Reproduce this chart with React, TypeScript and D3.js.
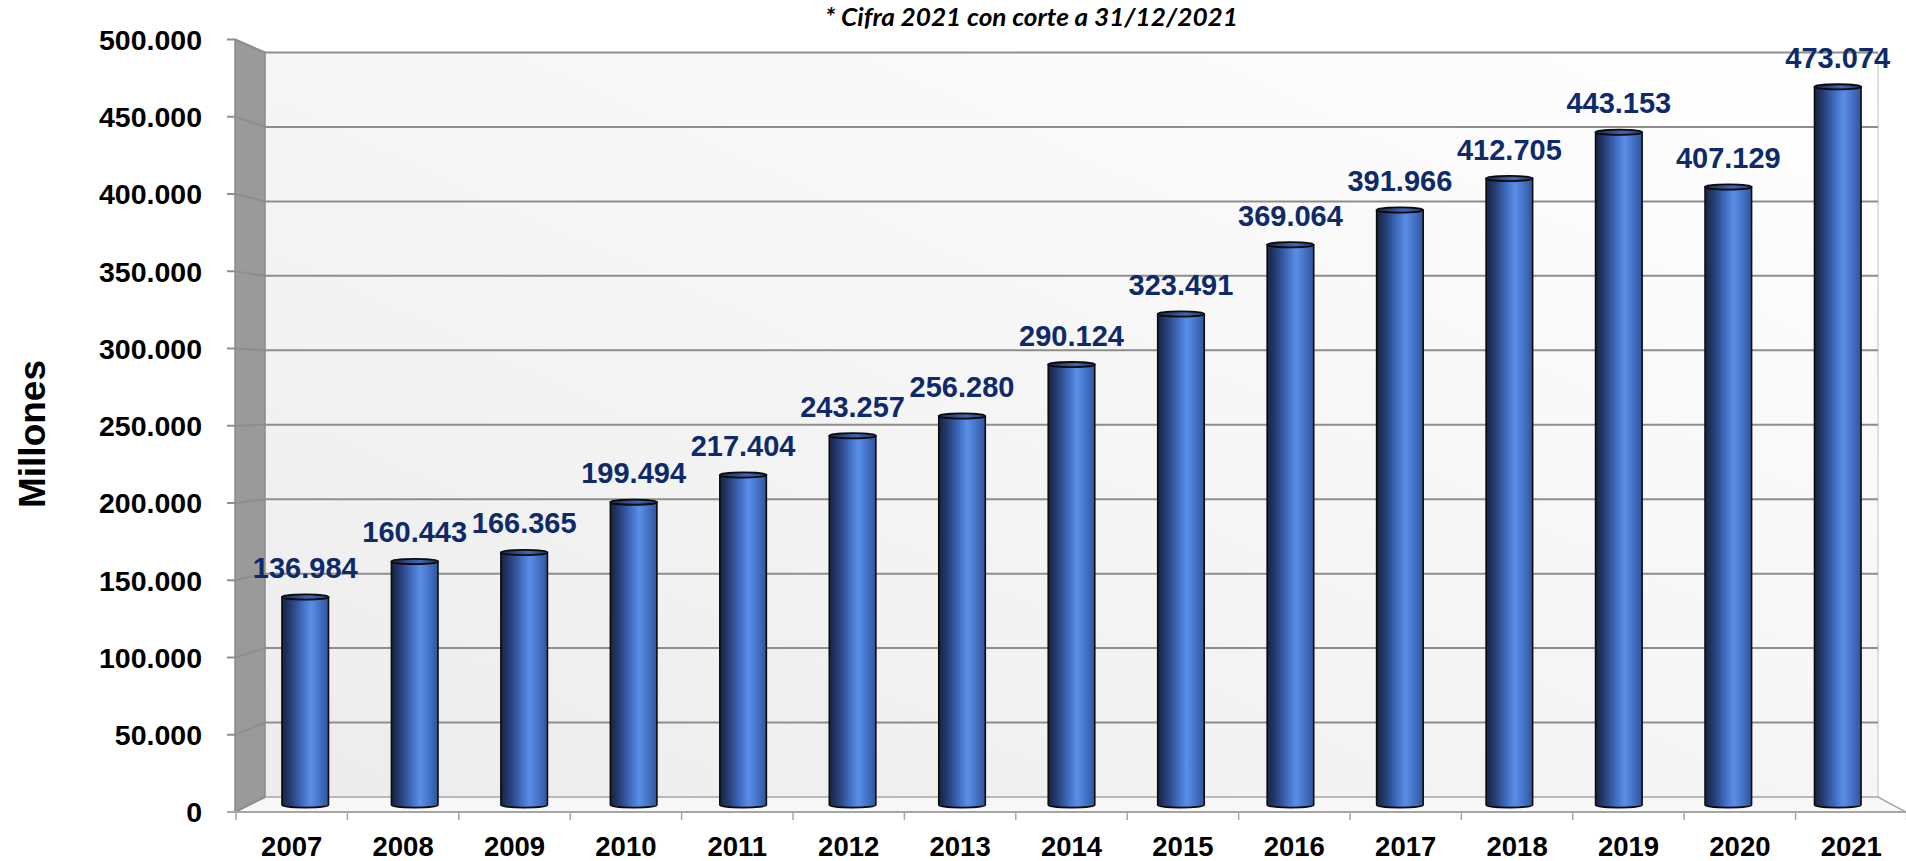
import React, { useEffect } from "react";
import * as d3 from "d3";

const years = ["2007","2008","2009","2010","2011","2012","2013","2014","2015","2016","2017","2018","2019","2020","2021"];
const values = [136984,160443,166365,199494,217404,243257,256280,290124,323491,369064,391966,412705,443153,407129,473074];
const tickValues = [0,50000,100000,150000,200000,250000,300000,350000,400000,450000,500000];
const titleText = "* Cifra 2021 con corte a 31/12/2021";
const axisTitle = "Millones";

const W = 1906, H = 861;
const FONT = "'Liberation Sans', Arial, sans-serif";

export default function App() {
  useEffect(() => { document.body.style.margin = "0"; }, []);
  const loc = d3.formatLocale({ decimal: ",", thousands: ".", grouping: [3], currency: ["", ""] });
  const fmt = loc.format(",");

  const xFront = d3.scaleBand<string>().domain(years).range([236, 1907]);
  const xMid = d3.scaleBand<string>().domain(years).range([250.5, 1892.5]).paddingInner(0.575).paddingOuter(0.2875);
  const yFront = d3.scaleLinear().domain([0, 500000]).range([812, 39.5]);
  const yBack = d3.scaleLinear().domain([0, 500000]).range([797, 52.5]);
  const yMid = d3.scaleLinear().domain([0, 500000]).range([805, 46]);

  const wallL = 265, wallR = 1878, frontL = 235, frontR = 1906;
  const gridColor = "#8e8e8e";
  const ry = 2.6;

  return (
    <svg width={W} height={H} style={{ position: "absolute", left: 0, top: 0, background: "#fff" }}>
      <defs>
        <linearGradient id="wallG" x1="0" y1="1" x2="1" y2="0">
          <stop offset="0" stopColor="#ececec" />
          <stop offset="1" stopColor="#ffffff" />
        </linearGradient>
        <linearGradient id="barG" x1="0" y1="0" x2="1" y2="0">
          <stop offset="0" stopColor="#17233f" />
          <stop offset="0.2" stopColor="#263f78" />
          <stop offset="0.45" stopColor="#426fc4" />
          <stop offset="0.62" stopColor="#5b8ee6" />
          <stop offset="0.75" stopColor="#4b7bd3" />
          <stop offset="1" stopColor="#30549c" />
        </linearGradient>
        <linearGradient id="topG" x1="0" y1="0" x2="1" y2="0">
          <stop offset="0" stopColor="#1a2747" />
          <stop offset="0.6" stopColor="#3e68b8" />
          <stop offset="1" stopColor="#223a6e" />
        </linearGradient>
      </defs>

      {/* back wall */}
      <rect x={wallL} y={yBack(500000)} width={wallR - wallL} height={yBack(0) - yBack(500000)} fill="url(#wallG)" />
      <line x1={wallR} x2={wallR} y1={yBack(500000)} y2={yBack(0)} stroke="#d4d4d4" strokeWidth={1.5} />
      {/* side wall */}
      <polygon
        points={`${frontL},${yFront(500000)} ${wallL},${yBack(500000)} ${wallL},${yBack(0)} ${frontL},${yFront(0)}`}
        fill="#9a9a9a" stroke="#8a8a8a" strokeWidth={1.5}
      />
      {/* floor */}
      <polygon
        points={`${frontL},${yFront(0)} ${wallL},${yBack(0)} ${wallR},${yBack(0)} ${frontR},${yFront(0)}`}
        fill="#f7f7f7" stroke="#a6a6a6" strokeWidth={1.5}
      />

      {/* gridlines */}
      {tickValues.map((t) => (
        <g key={t}>
          {t > 0 && (
            <line x1={wallL} x2={wallR} y1={yBack(t)} y2={yBack(t)} stroke={gridColor} strokeWidth={2} />
          )}
          <line x1={frontL} x2={wallL} y1={yFront(t)} y2={yBack(t)} stroke={gridColor} strokeWidth={2} />
          <line x1={227} x2={frontL} y1={yFront(t)} y2={yFront(t)} stroke={gridColor} strokeWidth={2} />
          <text x={202} y={yFront(t)} dy="0.36em" textAnchor="end" fontFamily={FONT} fontWeight="bold" fontSize={28.5} fill="#000">
            {fmt(t)}
          </text>
        </g>
      ))}

      {/* front axis line and category ticks */}
      <line x1={227} x2={frontR} y1={yFront(0)} y2={yFront(0)} stroke="#a6a6a6" strokeWidth={2} />
      {years.map((yr, i) => (
        <line key={"t" + yr} x1={xFront(yr)!} x2={xFront(yr)!} y1={yFront(0)} y2={yFront(0) + 8} stroke="#a6a6a6" strokeWidth={1.5} />
      ))}
      <line x1={xFront.range()[1] - 0.5} x2={xFront.range()[1] - 0.5} y1={yFront(0)} y2={yFront(0) + 8} stroke="#a6a6a6" strokeWidth={1.5} />

      {/* bars */}
      {years.map((yr, i) => {
        const x0 = xMid(yr)!;
        const bw = xMid.bandwidth();
        const cx = x0 + bw / 2;
        const yt = yMid(values[i]);
        const yb = yMid(0);
        const rx = bw / 2;
        const body = `M${x0},${yt} L${x0},${yb} A${rx},${ry} 0 0 0 ${x0 + bw},${yb} L${x0 + bw},${yt} Z`;
        return (
          <g key={yr}>
            <path d={body} fill="url(#barG)" stroke="#0b0b0b" strokeWidth={1.6} />
            <ellipse cx={cx} cy={yt} rx={rx} ry={ry} fill="url(#topG)" stroke="#0b0b0b" strokeWidth={1.8} />
            <text x={cx} y={yt - 19} textAnchor="middle" fontFamily={FONT} fontWeight="bold" fontSize={29} fill="#0e2a6a">
              {fmt(values[i])}
            </text>
          </g>
        );
      })}

      {/* category labels */}
      {years.map((yr) => (
        <text key={"l" + yr} x={xFront(yr)! + xFront.bandwidth() / 2} y={856} textAnchor="middle" fontFamily={FONT} fontWeight="bold" fontSize={27.5} fill="#000">
          {yr}
        </text>
      ))}

      {/* axis title */}
      <text transform="translate(45,434) rotate(-90)" textAnchor="middle" fontFamily={FONT} fontWeight="bold" fontSize={37} fill="#000">
        {axisTitle}
      </text>

      {/* chart note */}
      <text x={825} y={26} fontFamily="Lato, 'Open Sans', sans-serif" fontStyle="italic" fontWeight="bold" fontSize={25} textLength={413} lengthAdjust="spacingAndGlyphs" fill="#000">
        {titleText}
      </text>
    </svg>
  );
}
